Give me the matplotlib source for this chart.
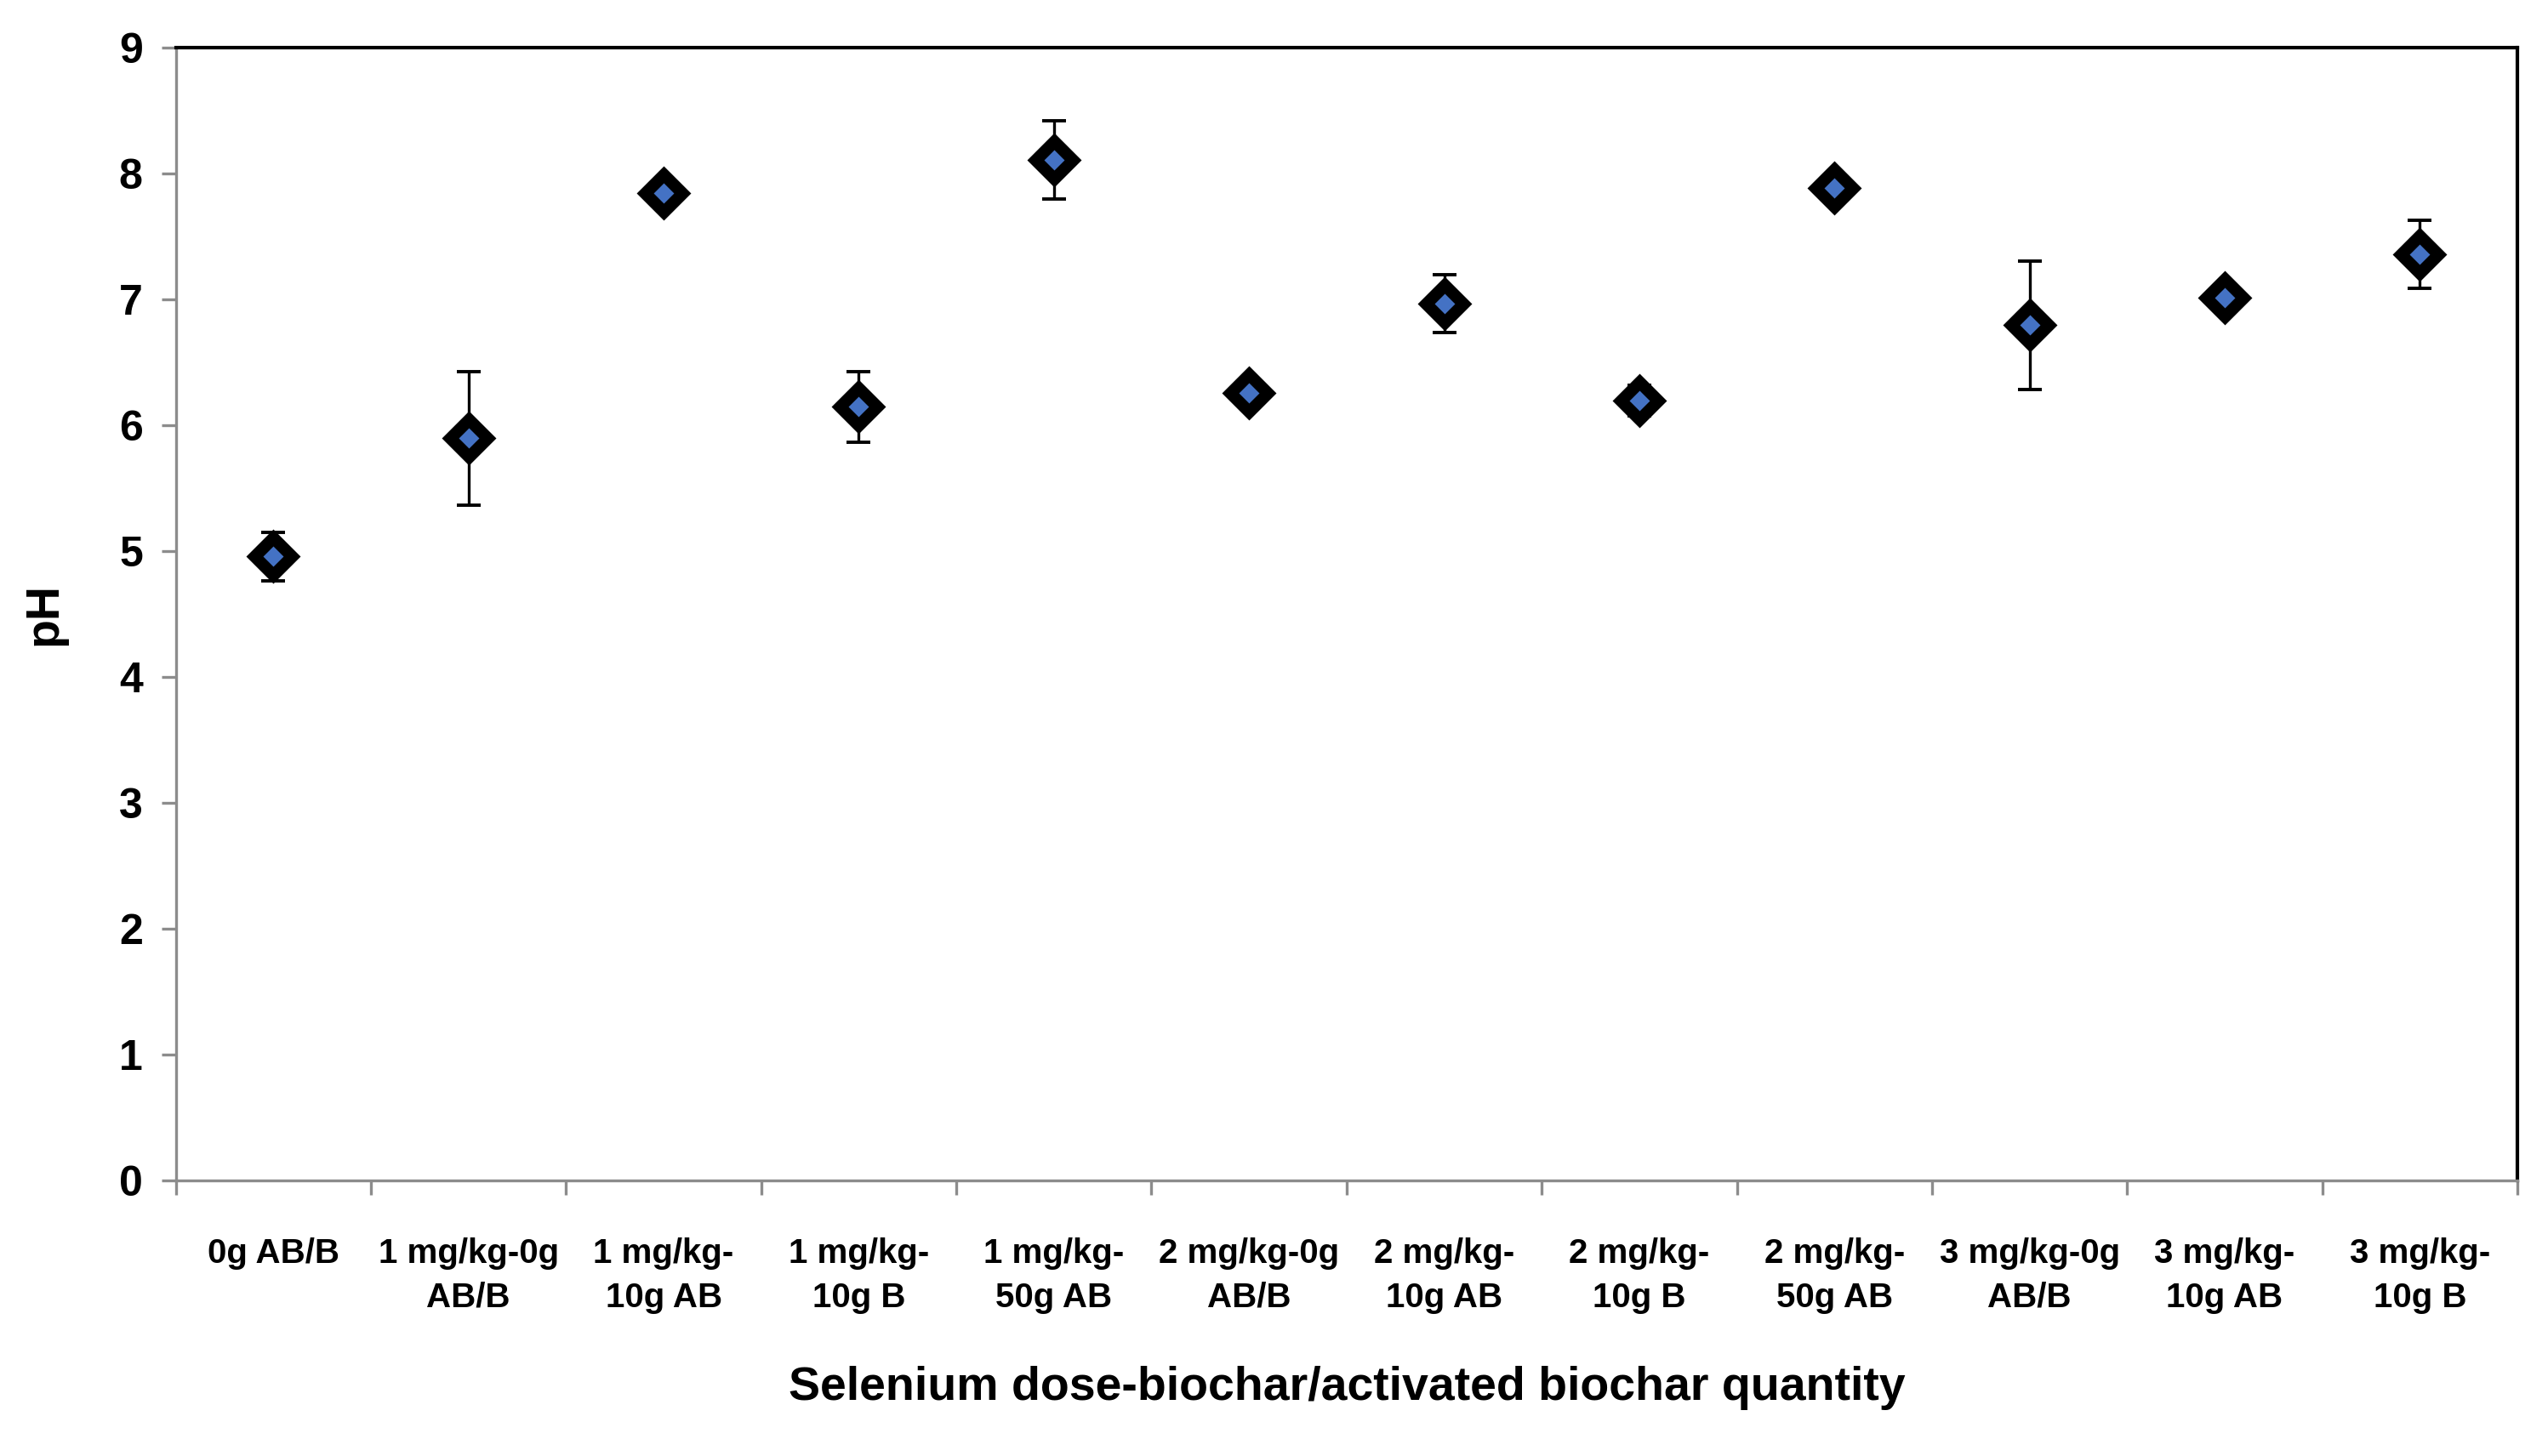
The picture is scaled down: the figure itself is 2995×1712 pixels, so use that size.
import matplotlib
matplotlib.use("Agg")
import matplotlib.pyplot as plt
import numpy as np

categories = ["0g AB/B", "1 mg/kg-0g\nAB/B", "1 mg/kg-\n10g AB", "1 mg/kg-\n10g B",
              "1 mg/kg-\n50g AB", "2 mg/kg-0g\nAB/B", "2 mg/kg-\n10g AB", "2 mg/kg-\n10g B",
              "2 mg/kg-\n50g AB", "3 mg/kg-0g\nAB/B", "3 mg/kg-\n10g AB", "3 mg/kg-\n10g B"]
ph_mean = [4.96, 5.90, 7.85, 6.15, 8.11, 6.26, 6.97, 6.20, 7.89, 6.80, 7.02, 7.36]
ph_err = [0.19, 0.53, 0.10, 0.28, 0.31, 0.08, 0.23, 0.12, 0.08, 0.51, 0.08, 0.27]
y_ticks = [0, 1, 2, 3, 4, 5, 6, 7, 8, 9]

FONT = ["Liberation Sans", "DejaVu Sans"]
plt.rcParams['font.family'] = FONT

fig = plt.figure(figsize=(14.975, 8.56), dpi=200)
ax = fig.add_axes([0.069, 0.189, 0.919, 0.778])

x = np.arange(len(categories))
ax.errorbar(x, ph_mean, yerr=ph_err, fmt='none', ecolor='black', elinewidth=1.2,
            capsize=5, capthick=1.4, zorder=2)
ax.plot(x, ph_mean, linestyle='none', marker='D', markersize=15.5, markerfacecolor='black',
        markeredgecolor='black', zorder=3)
ax.plot(x, ph_mean, linestyle='none', marker='D', markersize=5, markerfacecolor='#4472C4',
        markeredgecolor='#4472C4', zorder=4)

ax.set_xlim(-0.5, len(categories) - 0.5)
ax.set_ylim(0, 9)
ax.set_yticks(y_ticks)
ax.set_yticklabels([str(t) for t in y_ticks], fontsize=18, fontweight='bold')

ax.set_xticks(np.arange(-0.5, len(categories), 1.0))
ax.set_xticklabels([])
ax.set_xticks(x, minor=True)
ax.set_xticklabels(categories, minor=True, fontsize=14.5, fontweight='bold', linespacing=1.45)
ax.tick_params(axis='x', which='minor', length=0, pad=24)
ax.tick_params(axis='x', which='major', length=6, width=1.2, color='#8c8c8c', direction='out')
ax.tick_params(axis='y', length=6, width=1.2, color='#8c8c8c', direction='out', pad=8)

for s in ['top', 'right']:
    ax.spines[s].set_color('black')
    ax.spines[s].set_linewidth(1.5)
for s in ['left', 'bottom']:
    ax.spines[s].set_color('#8c8c8c')
    ax.spines[s].set_linewidth(1.2)

ax.set_xlabel("Selenium dose-biochar/activated biochar quantity", fontsize=20,
              fontweight='bold', labelpad=22)
ax.set_ylabel("pH", fontsize=20, fontweight='bold', labelpad=22)

fig.savefig("out.png", dpi=200, facecolor='white')
